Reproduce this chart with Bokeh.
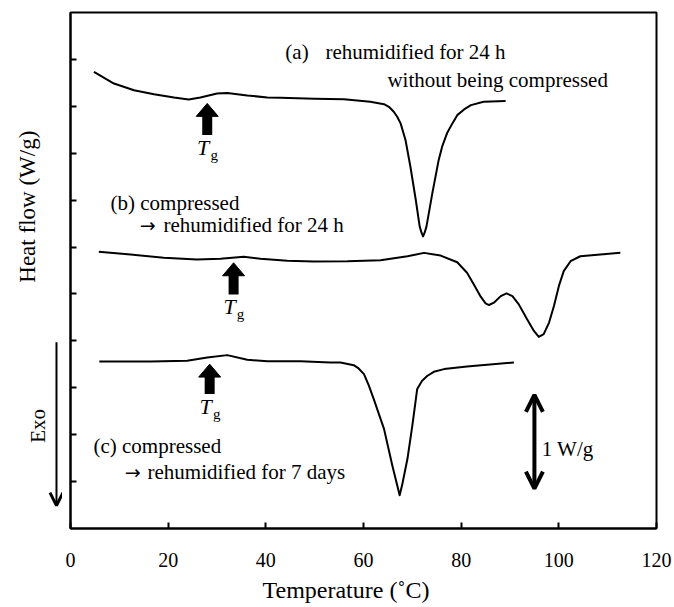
from bokeh.plotting import figure
from bokeh.models import Range1d, FixedTicker, Label, Arrow, OpenHead, Title
from bokeh.layouts import row
from bokeh.embed import file_html
from bokeh.resources import INLINE

# ---------------- data ----------------
curve_a_x = [4.8, 8.9, 13.0, 17.1, 21.2, 24.2, 26.6, 30.0, 32.1, 36.2, 40.3, 43.0, 50.0, 56.0,
             61.4, 64.2, 65.2, 66.2, 66.9, 67.6, 68.6, 69.6, 70.7, 71.5, 71.9, 72.2, 72.5, 72.9,
             74.1, 75.4, 76.1, 77.1, 78.2, 79.2, 80.6, 82.0, 84.6, 89.1]
curve_a_y = [4.866, 4.743, 4.672, 4.629, 4.594, 4.573, 4.594, 4.637, 4.643, 4.616, 4.594, 4.590,
             4.580, 4.575, 4.548, 4.523, 4.495, 4.442, 4.389, 4.318, 4.141, 3.858, 3.504, 3.220,
             3.150, 3.114, 3.150, 3.220, 3.575, 3.929, 4.070, 4.212, 4.318, 4.406, 4.467, 4.513,
             4.548, 4.558]

curve_b_x = [5.8, 12.3, 19.1, 25.9, 30.7, 35.5, 38.9, 44.4, 49.8, 56.7, 63.5, 69.0, 72.4, 75.8,
             79.2, 81.2, 82.6, 84.0, 85.0, 85.7, 86.7, 88.1, 89.3, 90.5, 91.8, 93.5, 94.9, 95.9,
             96.9, 98.0, 99.0, 100.0, 101.0, 102.4, 104.4, 108.5, 112.6]
curve_b_y = [2.949, 2.920, 2.885, 2.867, 2.874, 2.896, 2.874, 2.853, 2.846, 2.849, 2.860, 2.902,
             2.938, 2.909, 2.838, 2.726, 2.601, 2.471, 2.400, 2.382, 2.407, 2.477, 2.506, 2.477,
             2.389, 2.230, 2.106, 2.042, 2.071, 2.195, 2.371, 2.583, 2.743, 2.849, 2.902, 2.920,
             2.938]

curve_c_x = [5.9, 16.4, 23.9, 28.0, 32.1, 36.2, 40.3, 47.1, 53.2, 55.3, 58.0, 59.0, 60.1, 61.1,
             62.1, 64.2, 65.9, 66.9, 67.4, 67.9, 69.0, 70.0, 71.0, 72.0, 73.1, 74.4, 76.5, 81.2,
             90.8]
curve_c_y = [1.781, 1.781, 1.787, 1.823, 1.848, 1.798, 1.784, 1.784, 1.770, 1.770, 1.741, 1.706,
             1.646, 1.522, 1.380, 1.062, 0.672, 0.460, 0.354, 0.460, 0.743, 1.097, 1.487, 1.575,
             1.628, 1.670, 1.699, 1.727, 1.770]

# glass transition markers (x, arrow tip, arrow base)
tg_x = [28.0, 33.4, 28.5]
tg_tip = [4.531, 2.832, 1.752]
tg_base = [4.194, 2.495, 1.433]

x_ticks = [0, 20, 40, 60, 80, 100, 120]
y_ticks = [0.5, 1.0, 1.5, 2.0, 2.5, 3.0, 3.5, 4.0, 4.5, 5.0]

# annotation texts
label_texts = ["(a)", "rehumidified for 24 h", "without being compressed",
               "(b) compressed", "rehumidified for 24 h",
               "(c) compressed", "rehumidified for 7 days", "1 W/g"]
label_x = [44.0, 52.2, 64.9, 8.2, 19.05, 4.7, 15.77, 96.5]
label_y = [5.075, 5.075, 4.778, 3.472, 3.238, 0.881, 0.605, 0.849]

then_arrow_x = [14.2, 11.1]      # "→" before the second line of (b) and (c)
then_arrow_y = [3.238, 0.605]

scale_x = 95.0
scale_y0 = 0.425
scale_len = 1.0  # W/g

exo_x = -2.87
exo_y0, exo_y1 = 1.986, 0.244
exo_label = (-6.6, 1.094)
yaxis_title = (-8.8, 3.43)

# ---------------- geometry / style ----------------
PAGE_W, H = 674, 607
STRIP_W = 62
FRAME_LEFT = 70
BL, BR, BT, BB = FRAME_LEFT - STRIP_W, 18, 12, 77
W = PAGE_W - STRIP_W
XMIN, XMAX, YMIN, YMAX = 0, 120, 0, 5.5
SERIF = "Liberation Serif"
FS = "21px"

px_per_x = (W - BL - BR) / (XMAX - XMIN)
px_per_y = (H - BT - BB) / (YMAX - YMIN)

p = figure(width=W, height=H, output_backend="svg", toolbar_location=None,
           x_range=Range1d(XMIN, XMAX), y_range=Range1d(YMIN, YMAX),
           min_border_left=BL, min_border_right=BR, min_border_top=BT, min_border_bottom=BB)
p.background_fill_color = "white"
p.border_fill_color = "white"
p.outline_line_color = "black"
p.outline_line_width = 2
p.xgrid.visible = False
p.ygrid.visible = False

p.xaxis.ticker = FixedTicker(ticks=x_ticks)
p.xaxis.minor_tick_line_color = None
p.xaxis.major_tick_in = 6
p.xaxis.major_tick_out = 0
p.xaxis.major_tick_line_width = 2
p.xaxis.axis_line_width = 2
p.xaxis.major_label_text_font = SERIF
p.xaxis.major_label_text_font_size = "20px"
p.xaxis.major_label_text_color = "black"
p.xaxis.major_label_standoff = 24

p.yaxis.ticker = FixedTicker(ticks=y_ticks)
p.yaxis.minor_tick_line_color = None
p.yaxis.major_tick_in = 6
p.yaxis.major_tick_out = 0
p.yaxis.major_tick_line_width = 2
p.yaxis.axis_line_width = 2
p.yaxis.major_label_overrides = {t: "" for t in y_ticks}
p.yaxis.major_label_text_color = None
p.yaxis.major_label_text_font_size = "1px"
p.yaxis.major_label_standoff = 0

# x-axis title
p.add_layout(Title(text="Temperature (\u02daC)", align="left", offset=192, standoff=10,
                   text_font=SERIF, text_font_size="24px", text_font_style="normal",
                   text_color="black"), "below")

# curves
for cx, cy in [(curve_a_x, curve_a_y), (curve_b_x, curve_b_y), (curve_c_x, curve_c_y)]:
    p.line(cx, cy, line_color="black", line_width=2, line_join="round")

# Tg block arrows
head_half_w = 11 / px_per_x
head_len = 13 / px_per_y
p.segment(x0=tg_x, y0=tg_base, x1=tg_x, y1=[t - head_len + 0.01 for t in tg_tip],
          line_color="black", line_width=10, line_cap="butt")
p.patches(xs=[[x - head_half_w, x + head_half_w, x] for x in tg_x],
          ys=[[t - head_len, t - head_len, t] for t in tg_tip],
          fill_color="black", line_color="black", line_width=1)
for x, b in zip(tg_x, tg_base):
    p.add_layout(Label(x=x, y=b, text="T", x_offset=-4, y_offset=-12,
                       text_font=SERIF, text_font_style="italic", text_font_size="22px",
                       text_align="center", text_baseline="middle", text_color="black"))
    p.add_layout(Label(x=x, y=b, text="g", x_offset=7, y_offset=-20,
                       text_font=SERIF, text_font_size="15px",
                       text_align="center", text_baseline="middle", text_color="black"))

# text annotations
for t, x, y in zip(label_texts, label_x, label_y):
    p.add_layout(Label(x=x, y=y, text=t, text_font=SERIF, text_font_size=FS,
                       text_align="left", text_baseline="middle", text_color="black"))
for x, y in zip(then_arrow_x, then_arrow_y):
    p.add_layout(Label(x=x, y=y, text="\u2192", text_font="DejaVu Sans", text_font_size="19px",
                       text_align="left", text_baseline="middle", text_color="black"))

# 1 W/g scale arrow
p.add_layout(Arrow(x_start=scale_x, y_start=scale_y0, x_end=scale_x, y_end=scale_y0 + scale_len,
                   start=OpenHead(size=17, line_width=4, line_color="black"),
                   end=OpenHead(size=17, line_width=4, line_color="black"),
                   line_width=4, line_color="black"))

# ---------------- left strip: y title, Exo arrow ----------------
strip = figure(width=STRIP_W, height=H, output_backend="svg", toolbar_location=None,
               x_range=Range1d(-FRAME_LEFT / px_per_x, -BL / px_per_x), y_range=p.y_range,
               min_border_left=0, min_border_right=0, min_border_top=BT, min_border_bottom=BB,
               x_axis_location=None, y_axis_location=None)
strip.outline_line_color = None
strip.background_fill_color = "white"
strip.border_fill_color = "white"
strip.xgrid.visible = False
strip.ygrid.visible = False

strip.add_layout(Arrow(x_start=exo_x, y_start=exo_y0, x_end=exo_x, y_end=exo_y1,
                       end=OpenHead(size=13, line_width=3, line_color="black"),
                       line_width=2, line_color="black"))
strip.add_layout(Label(x=exo_label[0], y=exo_label[1], text="Exo", angle=90, angle_units="deg",
                       text_font=SERIF, text_font_size=FS,
                       text_align="center", text_baseline="middle", text_color="black"))
strip.add_layout(Label(x=yaxis_title[0], y=yaxis_title[1], text="Heat flow (W/g)",
                       angle=90, angle_units="deg",
                       text_font=SERIF, text_font_size="23px",
                       text_align="center", text_baseline="middle", text_color="black"))

layout = row(strip, p, spacing=0)
open("out.html", "w").write(file_html(layout, INLINE))
